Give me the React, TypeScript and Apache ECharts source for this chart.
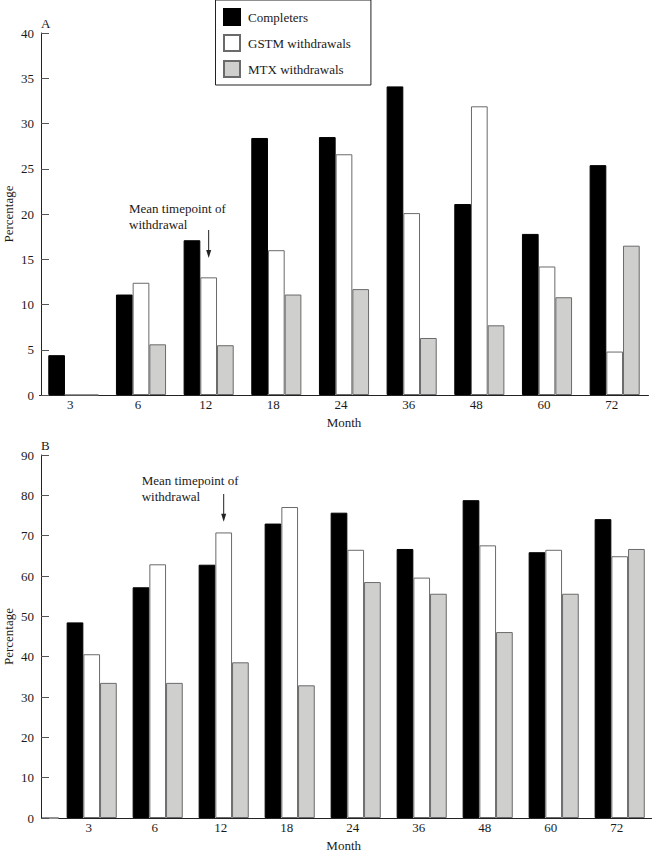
import React, { useEffect, useRef } from "react";
import * as echarts from "echarts";

const months = ["3", "6", "12", "18", "24", "36", "48", "60", "72"];
const seriesNames = ["Completers", "GSTM withdrawals", "MTX withdrawals"];

const completersA = [4.4, 11.1, 17.1, 28.4, 28.5, 34.1, 21.1, 17.8, 25.4];
const gstmA = [0, 12.4, 13.0, 16.0, 26.6, 20.1, 31.9, 14.2, 4.8];
const mtxA = [0, 5.6, 5.5, 11.1, 11.7, 6.3, 7.7, 10.8, 16.5];

const completersB = [48.5, 57.2, 62.8, 73.0, 75.7, 66.7, 78.8, 65.9, 74.1];
const gstmB = [40.6, 62.9, 70.8, 77.1, 66.5, 59.6, 67.6, 66.5, 64.9];
const mtxB = [33.5, 33.5, 38.6, 32.9, 58.5, 55.6, 46.1, 55.6, 66.7];

const yTicksA = { min: 0, max: 40, interval: 5 };
const yTicksB = { min: 0, max: 90, interval: 10 };

const FONT = "'Liberation Serif', 'Times New Roman', serif";
const TXT = "#1a1a1a";

export default function App() {
  const ref = useRef<HTMLDivElement>(null);

  useEffect(() => {
    if (!ref.current) return;
    const chart = echarts.init(ref.current, undefined, { renderer: "svg" });

    const styles = [
      { color: "#000000", borderColor: "#000000", borderWidth: 1 },
      { color: "#ffffff", borderColor: "#6a6a6a", borderWidth: 1 },
      { color: "#cfd0ce", borderColor: "#6a6a6a", borderWidth: 1 },
    ];

    const gridA = { left: 39.5, top: 33, width: 609, height: 362 };
    const gridB = { left: 58.7, top: 455, width: 594, height: 363 };
    const axisX = 41;

    const yAxisCommon = (t: any, offset: number, gi: number) => ({
      type: "value",
      gridIndex: gi,
      min: t.min,
      max: t.max,
      interval: t.interval,
      offset,
      name: "Percentage",
      nameLocation: "middle",
      nameGap: 26,
      nameMoveOverlap: false,
      nameTextStyle: { fontFamily: FONT, fontSize: 13, color: TXT, lineHeight: 13 },
      axisLine: { show: true, lineStyle: { color: "#222", width: 1 } },
      axisTick: { show: true, inside: true, length: 8, lineStyle: { color: "#555" } },
      axisLabel: { fontFamily: FONT, fontSize: 13, color: TXT, margin: 7 },
      splitLine: { show: false },
    });

    const xAxisCommon = (gi: number, namePad: number[]) => ({
      type: "category",
      gridIndex: gi,
      data: months,
      name: "Month",
      nameLocation: "middle",
      nameGap: 21,
      nameMoveOverlap: false,
      nameTextStyle: { fontFamily: FONT, fontSize: 13, color: TXT, padding: namePad },
      axisLine: { show: true, lineStyle: { color: "#222", width: 1 } },
      axisTick: { show: false },
      axisLabel: { fontFamily: FONT, fontSize: 13, color: TXT, margin: 3, padding: [0, 6, 0, 0] },
      splitLine: { show: false },
    });

    const dataA = [completersA, gstmA, mtxA];
    const dataB = [completersB, gstmB, mtxB];
    const barW = 16.7;

    const series: any[] = [];
    dataA.forEach((d, i) =>
      series.push({
        type: "bar",
        name: seriesNames[i],
        xAxisIndex: 0,
        yAxisIndex: 0,
        data: d,
        barWidth: barW,
        barGap: "0%",
        itemStyle: styles[i],
      })
    );
    dataB.forEach((d, i) =>
      series.push({
        type: "bar",
        name: seriesNames[i],
        xAxisIndex: 1,
        yAxisIndex: 1,
        data: d,
        barWidth: barW,
        barGap: "0%",
        itemStyle: styles[i],
      })
    );

    const bandA = gridA.width / months.length;
    const bandB = gridB.width / months.length;
    const arrowAX = gridA.left + bandA * 2.5;
    const arrowBX = gridB.left + bandB * 2.5;

    const arrow = (x: number, y0: number, y1: number) => ({
      type: "group",
      children: [
        { type: "line", shape: { x1: x, y1: y0, x2: x, y2: y1 - 6 }, style: { stroke: "#222", lineWidth: 1 } },
        {
          type: "polygon",
          shape: { points: [[x - 2.5, y1 - 8], [x + 2.5, y1 - 8], [x, y1]] },
          style: { fill: "#222" },
        },
      ],
    });

    const annotation = (x: number, y: number) => ({
      type: "text",
      x,
      y,
      style: {
        text: "Mean timepoint of\nwithdrawal",
        font: `13px ${FONT}`,
        fill: TXT,
        lineHeight: 16,
        verticalAlign: "top",
        align: "left",
      },
    });

    const bottomAxisY = gridB.top + gridB.height;

    chart.setOption({
      animation: false,
      backgroundColor: "#ffffff",
      grid: [
        { ...gridA, containLabel: false, outerBoundsMode: "none" },
        { ...gridB, containLabel: false, outerBoundsMode: "none" },
      ],
      xAxis: [xAxisCommon(0, [0, 0, 0, 0]), xAxisCommon(1, [0, 24, 0, 0])],
      yAxis: [yAxisCommon(yTicksA, gridA.left - axisX, 0), yAxisCommon(yTicksB, gridB.left - axisX, 1)],
      legend: {
        data: seriesNames,
        orient: "vertical",
        left: 215.5,
        top: 0,
        itemWidth: 16,
        itemHeight: 16,
        itemGap: 8,
        icon: "rect",
        padding: [8, 20, 7, 7.5],
        borderColor: "#222",
        borderWidth: 1,
        backgroundColor: "#ffffff",
        selectedMode: false,
        textStyle: { fontFamily: FONT, fontSize: 13, color: TXT, padding: [2, 0, 0, 3] },
      },
      graphic: [
        { type: "text", x: 41, y: 23, style: { text: "A", font: `13px ${FONT}`, fill: TXT, verticalAlign: "middle" } },
        { type: "text", x: 41, y: 445.5, style: { text: "B", font: `13px ${FONT}`, fill: TXT, verticalAlign: "middle" } },
        annotation(129, 200.3),
        annotation(141.7, 472),
        arrow(arrowAX, 230, 258),
        arrow(arrowBX, 494, 521.7),
        {
          type: "line",
          shape: { x1: axisX, y1: bottomAxisY, x2: gridB.left, y2: bottomAxisY },
          style: { stroke: "#222", lineWidth: 1 },
        },
      ],
      series,
    });

    return () => chart.dispose();
  }, []);

  return (
    <div
      ref={ref}
      style={{ position: "absolute", left: 0, top: 0, width: 652, height: 852, background: "#fff" }}
    />
  );
}
